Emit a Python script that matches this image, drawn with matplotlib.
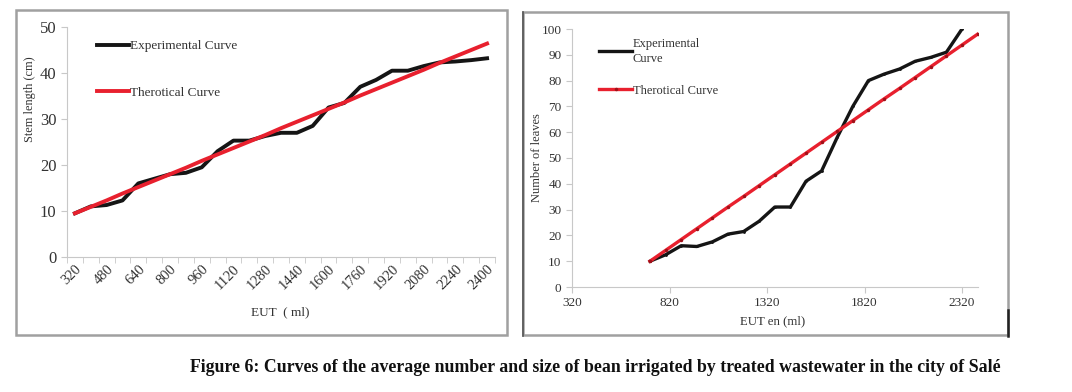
import numpy as np
import matplotlib
matplotlib.use("Agg")
import matplotlib.pyplot as plt
from matplotlib.patches import Rectangle
from matplotlib.lines import Line2D

plt.rcParams['font.family'] = ['Liberation Serif', 'DejaVu Serif']

# left chart: stem length vs EUT (category axis, every 80 ml)
eut_stem = list(range(320, 2401, 80))
stem_exp = [9.5, 11.0, 11.3, 12.3, 16.0, 17.0, 18.0, 18.3, 19.5, 23.0, 25.3, 25.3, 26.3, 27.0,
            27.0, 28.5, 32.5, 33.5, 37.0, 38.5, 40.5, 40.5, 41.5, 42.3, 42.5, 42.8, 43.2]
stem_theo = [9.5, 10.9, 12.3, 13.8, 15.2, 16.6, 18.0, 19.4, 20.9, 22.3, 23.7, 25.1, 26.5, 28.0,
             29.4, 30.8, 32.2, 33.6, 35.1, 36.5, 37.9, 39.3, 40.7, 42.2, 43.6, 45.0, 46.4]
stem_ticks = list(range(320, 2401, 160))

# right chart: number of leaves vs EUT
eut_leaf_exp = list(range(720, 2321, 80))
leaf_exp = [10, 12.5, 16, 15.7, 17.5, 20.5, 21.5, 25.5, 31, 31, 41, 45, 58, 70, 80, 82.5,
            84.5, 87.5, 89, 91, 100]
eut_leaf_theo = list(range(720, 2401, 80))
leaf_theo = [10, 14.2, 18.4, 22.6, 26.8, 31.0, 35.1, 39.3, 43.5, 47.7, 51.9, 56.1, 60.3, 64.5,
             68.7, 72.9, 77.0, 81.2, 85.4, 89.6, 93.8, 98.0]
leaf_ticks = [320, 820, 1320, 1820, 2320]

black = '#151515'
red = '#e8202e'
axis_gray = '#c8c8c8'
text_col = '#333333'

W, H = 1072, 392
fig = plt.figure(figsize=(W / 100, H / 100), dpi=100)


def fbox(x0, y0, x1, y1):
    # pixel box (top-left origin) -> figure fraction rect
    return [x0 / W, 1 - y1 / H, (x1 - x0) / W, (y1 - y0) / H]


# frames around each chart
for (x0, y0, x1, y1) in [(16, 10, 507, 335), (523, 12, 1008, 335)]:
    fig.patches.append(Rectangle((x0 / W, 1 - y1 / H), (x1 - x0) / W, (y1 - y0) / H,
                                 transform=fig.transFigure, fill=False,
                                 edgecolor='#a0a0a0', linewidth=1.8))
fig.add_artist(Line2D([1008 / W, 1008 / W], [1 - 310 / H, 1 - 336 / H],
                      transform=fig.transFigure, color='#222222', linewidth=1.8))
fig.add_artist(Line2D([523 / W, 523 / W], [1 - 12 / H, 1 - 336 / H],
                      transform=fig.transFigure, color='#555555', linewidth=1.2))


def style_axes(ax):
    for s in ['top', 'right']:
        ax.spines[s].set_visible(False)
    ax.spines['left'].set_color(axis_gray)
    ax.spines['bottom'].set_color(axis_gray)
    ax.tick_params(axis='both', colors=axis_gray, labelcolor=text_col, length=4, width=0.8)


# ---- left chart
ax1 = fig.add_axes(fbox(67, 27, 495, 257))
style_axes(ax1)
ax1.plot(eut_stem, stem_exp, color=black, linewidth=2.8, solid_joinstyle='round',
         label='Experimental Curve')
ax1.plot(eut_stem, stem_theo, color=red, linewidth=2.8, label='Therotical Curve')
ax1.set_xlim(280, 2440)
ax1.set_ylim(0, 50)
ax1.set_yticks([0, 10, 20, 30, 40, 50])
ax1.tick_params(axis='y', labelsize=12)
ax1.set_xticks(stem_ticks)
ax1.set_xticklabels([str(t) for t in stem_ticks], rotation=45, ha='right',
                    rotation_mode='anchor', fontsize=10.5)
ax1.tick_params(axis='x', length=0, pad=4)
ax1.set_xticks(list(range(280, 2441, 80)), minor=True)
ax1.tick_params(axis='x', which='minor', length=4, color=axis_gray)
ax1.legend(loc='upper left', bbox_to_anchor=(0.043, 0.995), frameon=False, fontsize=9.5,
           handlelength=2.4, handletextpad=0.05, labelspacing=2.6, labelcolor=text_col)
fig.text(30 / W, 1 - 99 / H, 'Stem length (cm)', rotation=90, ha='center', va='center',
         fontsize=8.8, color=text_col)
fig.text(280 / W, 1 - 312 / H, 'EUT  ( ml)', ha='center', va='center', fontsize=9.5,
         color=text_col)

# ---- right chart
ax2 = fig.add_axes(fbox(572, 29, 978, 287))
style_axes(ax2)
ax2.plot(eut_leaf_exp, leaf_exp, color=black, linewidth=2.4, marker='.', markersize=2,
         label='Experimental\nCurve')
ax2.plot(eut_leaf_theo, leaf_theo, color=red, linewidth=2.4, marker='.', markersize=3,
         markeredgecolor='#a01018', markerfacecolor='#a01018', label='Therotical Curve')
ax2.set_xlim(320, 2402)
ax2.set_ylim(0, 100)
ax2.set_yticks(list(range(0, 101, 10)))
ax2.set_xticks(leaf_ticks)
ax2.tick_params(axis='both', labelsize=9.5)
leg2 = ax2.legend(loc='upper left', bbox_to_anchor=(0.04, 1.01), frameon=False, fontsize=9,
                  handlelength=2.6, handletextpad=0.05, labelspacing=1.6, labelcolor=text_col)
leg2.get_texts()[0].set_linespacing(1.35)
fig.text(537 / W, 1 - 158 / H, 'Number of leaves', rotation=90, ha='center', va='center',
         fontsize=9, color=text_col)
fig.text(773 / W, 1 - 321 / H, 'EUT en (ml)', ha='center', va='center', fontsize=9.2,
         color=text_col)

# caption
fig.text(595 / W, 1 - 368 / H,
         'Figure 6: Curves of the average number and size of bean irrigated by treated wastewater in the city of Salé',
         ha='center', va='center', fontsize=12.8, fontweight='bold', color='#111111')

fig.savefig('out.png', dpi=100)
